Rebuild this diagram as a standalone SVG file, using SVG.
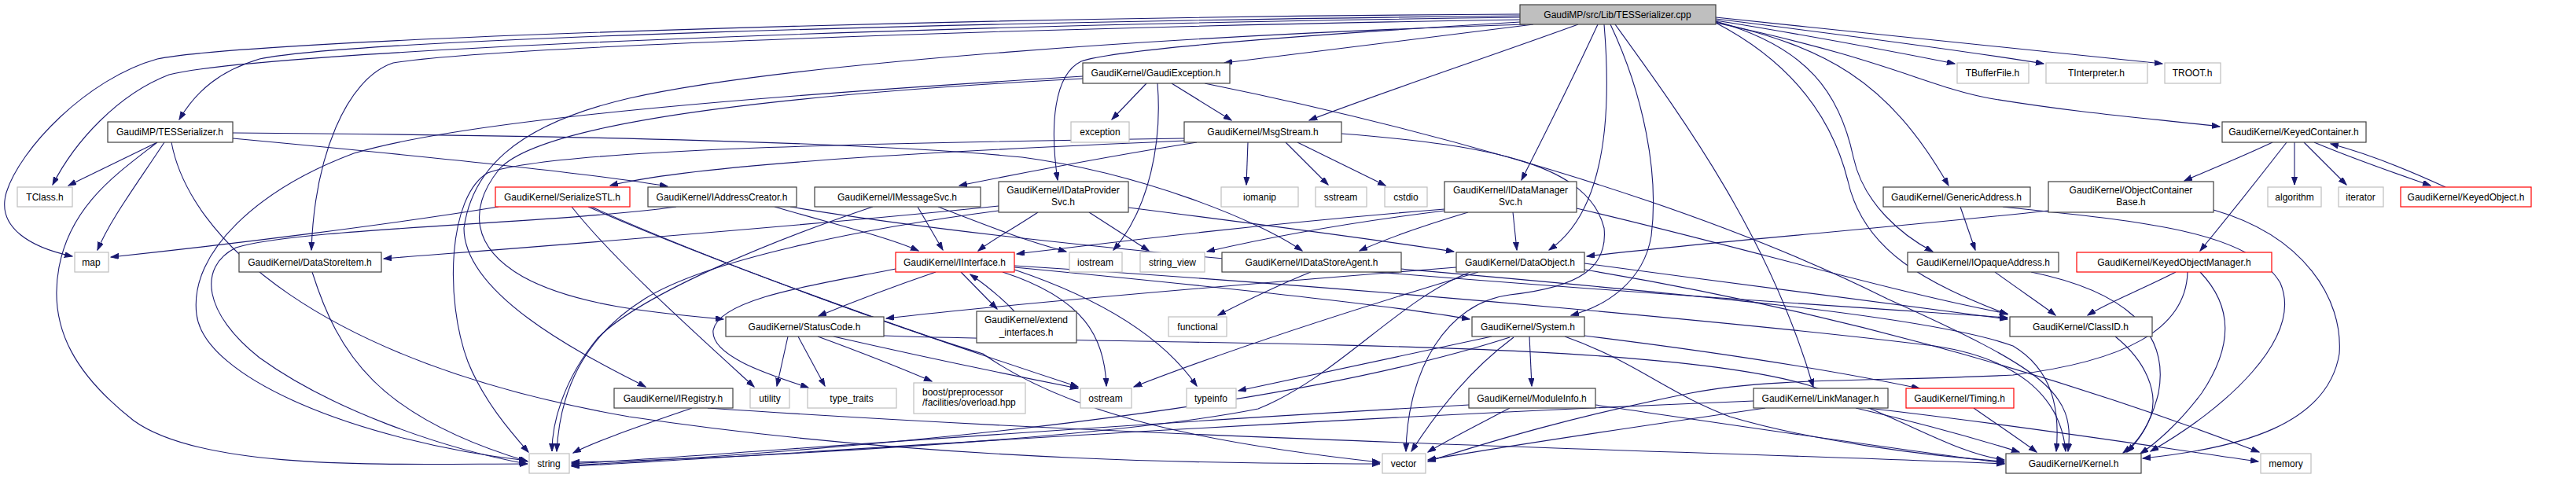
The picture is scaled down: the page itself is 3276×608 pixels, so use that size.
<svg xmlns="http://www.w3.org/2000/svg" width="3276" height="608" viewBox="0 0 3276 608">
<style>
rect{fill:#fff;stroke:#404040;stroke-width:1.2}
.g rect{stroke:#bfbfbf}
.r rect{stroke:#ff0000}
.root rect{fill:#bfbfbf;stroke:#404040}
text{font-family:"Liberation Sans",Arial,Helvetica,sans-serif;font-size:12px;fill:#000;text-anchor:middle}
text.l{text-anchor:start}
#edges path{fill:none;stroke:#191970;stroke-width:1.1;marker-end:url(#a)}
</style>
<defs>
<marker id="a" markerUnits="userSpaceOnUse" markerWidth="11" markerHeight="8" refX="10" refY="3.5" orient="auto">
<path d="M0,0 L10,3.5 L0,7 z" fill="#191970" stroke="#191970"/>
</marker>
</defs>
<rect x="0" y="0" width="3276" height="608" style="fill:#fff;stroke:none"/>
<g id="edges">
<path d="M1933,20 C1200,28 450,50 330,75 C280,90 250,115 228,152"/>
<path d="M1933,22 C1150,32 330,65 215,95 C150,120 95,180 67,235"/>
<path d="M1933,18 C1200,22 320,50 200,75 C110,100 25,190 8,245 C-5,290 40,315 92,326"/>
<path d="M1933,25 C1300,35 620,60 500,80 C440,100 400,200 396,318"/>
<path d="M1940,31 C1500,45 1000,80 800,125 C650,160 600,220 590,290 C590,380 760,460 821,492"/>
<path d="M1950,31 C1800,50 1650,68 1557,80"/>
<path d="M2007,31 C1900,70 1750,120 1665,153"/>
<path d="M1933,28 C1700,42 1420,62 1375,78 C1340,95 1335,160 1345,229"/>
<path d="M2032,31 C2000,100 1965,170 1935,229"/>
<path d="M2040,31 C2050,150 2040,270 1970,318"/>
<path d="M2048,31 C2090,120 2110,220 2100,300 C2090,360 2040,390 1998,401"/>
<path d="M2054,31 C2140,150 2250,300 2306,492"/>
<path d="M2182,28 C2320,60 2400,100 2478,236"/>
<path d="M2182,27 C2300,60 2340,120 2357,200 C2370,260 2420,300 2458,320"/>
<path d="M2182,29 C2280,80 2330,150 2350,230 C2370,320 2450,360 2553,400"/>
<path d="M2182,29 C2400,75 2450,110 2530,125 C2650,145 2750,152 2823,161"/>
<path d="M2182,26 C2300,45 2420,68 2486,81"/>
<path d="M2182,24 C2350,45 2500,65 2599,81"/>
<path d="M2182,22 C2400,45 2650,70 2750,81"/>
<path d="M1458,106 L1414,152"/>
<path d="M1490,106 L1566,153"/>
<path d="M1472,106 C1478,180 1462,265 1416,318"/>
<path d="M1532,106 C1700,140 2100,230 2400,380 C2600,470 2640,500 2630,574"/>
<path d="M1377,97 C1000,120 600,150 450,195 C330,240 240,320 250,400 C260,480 450,560 670,586"/>
<path d="M1377,100 C1000,120 690,155 635,215 C595,265 600,315 665,352 C730,388 830,398 920,406"/>
<path d="M1587,181 L1585,235"/>
<path d="M1635,181 L1689,235"/>
<path d="M1650,181 L1762,236"/>
<path d="M1522,181 C1400,200 1300,220 1220,236"/>
<path d="M1506,179 C1300,188 900,205 776,236"/>
<path d="M1506,176 C1100,182 700,190 620,220 C570,250 565,380 595,460 C615,510 650,550 672,575"/>
<path d="M1706,170 C1900,185 2020,210 2040,290 C2045,340 2010,365 1920,375 C1840,385 1790,470 1788,574"/>
<path d="M1167,263 L1199,318"/>
<path d="M1110,263 C1000,300 820,370 760,430 C715,485 702,540 702,574"/>
<path d="M1193,263 C1250,285 1300,305 1356,320"/>
<path d="M634,263 C500,285 300,310 141,327"/>
<path d="M727,263 C780,330 880,420 959,492"/>
<path d="M748,263 C900,330 1150,420 1371,492"/>
<path d="M752,263 C900,330 1150,420 1250,450 C1350,520 1500,560 1755,588"/>
<path d="M860,263 C700,285 380,290 300,315 C250,340 260,400 330,455 C420,520 560,570 670,590"/>
<path d="M985,263 C1060,285 1130,302 1168,319"/>
<path d="M1005,263 C1400,330 2200,380 2553,404"/>
<path d="M1270,262 C1000,290 600,320 488,329"/>
<path d="M1320,270 C1290,290 1262,305 1244,319"/>
<path d="M1385,270 L1461,319"/>
<path d="M1435,264 C1600,285 1750,305 1849,320"/>
<path d="M1270,268 C1100,290 900,330 820,380 C740,430 712,500 708,574"/>
<path d="M1867,270 C1800,290 1760,305 1729,319"/>
<path d="M1924,270 L1929,318"/>
<path d="M1837,268 C1700,285 1600,305 1535,320"/>
<path d="M1837,266 C1600,285 1400,310 1293,323"/>
<path d="M2005,265 C2200,310 2400,370 2553,399"/>
<path d="M1190,346 C1120,370 1070,390 1041,402"/>
<path d="M1222,346 L1268,393"/>
<path d="M1290,396 C1270,375 1250,360 1234,349"/>
<path d="M1275,346 C1380,380 1405,430 1407,491"/>
<path d="M1290,343 C1400,380 1480,430 1522,491"/>
<path d="M1139,342 C1050,360 915,378 907,420 C903,455 990,480 1028,493"/>
<path d="M1290,340 C1500,360 1750,385 1869,406"/>
<path d="M1290,338 C1800,370 2300,420 2460,440 C2560,455 2620,500 2627,574"/>
<path d="M1002,428 L988,491"/>
<path d="M1015,428 L1049,491"/>
<path d="M1040,428 C1100,450 1150,470 1185,485"/>
<path d="M1060,428 C1200,460 1300,480 1371,494"/>
<path d="M1124,427 C1500,440 2100,430 2300,490 C2420,530 2480,575 2549,585"/>
<path d="M1852,340 C1600,360 1300,385 1127,405"/>
<path d="M2015,335 C2200,360 2400,385 2553,406"/>
<path d="M1880,346 C1700,400 1550,450 1442,492"/>
<path d="M1870,346 C1780,380 1700,480 1600,520 C1400,560 900,585 727,588"/>
<path d="M2015,343 C2300,390 2600,470 2873,575"/>
<path d="M1667,346 C1620,365 1580,385 1549,401"/>
<path d="M1782,342 C2100,370 2450,400 2560,440 C2610,470 2620,520 2615,574"/>
<path d="M1945,428 L1948,491"/>
<path d="M1897,428 C1750,460 1650,480 1575,497"/>
<path d="M1920,429 C1700,500 1300,560 727,592"/>
<path d="M1925,429 C1870,470 1830,520 1795,574"/>
<path d="M2015,427 C2200,450 2350,475 2441,494"/>
<path d="M1990,428 C2080,460 2120,500 2200,530 C2300,560 2450,580 2549,587"/>
<path d="M1868,515 C1400,540 900,580 727,590"/>
<path d="M1920,519 C1880,540 1840,560 1816,575"/>
<path d="M2029,515 C2200,540 2400,570 2549,589"/>
<path d="M2230,510 C1500,540 900,585 727,593"/>
<path d="M2245,519 C2100,540 1900,570 1816,585"/>
<path d="M2360,519 C2450,540 2520,560 2568,575"/>
<path d="M2375,519 C2600,545 2750,570 2872,587"/>
<path d="M2510,519 C2540,540 2570,560 2590,575"/>
<path d="M2537,346 C2570,370 2600,390 2614,401"/>
<path d="M2583,346 C2700,370 2760,420 2745,500 C2735,540 2720,560 2705,575"/>
<path d="M2767,346 C2720,370 2680,385 2655,401"/>
<path d="M2782,346 C2780,420 2700,460 2560,477 C2400,485 2250,480 2150,500 C2000,530 1900,560 1816,587"/>
<path d="M2798,346 C2840,390 2840,440 2800,500 C2770,540 2740,565 2722,577"/>
<path d="M2890,181 C2850,200 2805,218 2778,230"/>
<path d="M2918,181 L2918,235"/>
<path d="M2930,181 L2984,235"/>
<path d="M2943,181 C3000,205 3060,225 3091,236"/>
<path d="M3110,238 C3060,215 3010,195 2964,183"/>
<path d="M2908,181 C2870,230 2830,280 2798,319"/>
<path d="M2493,263 L2512,318"/>
<path d="M2547,263 C2700,280 2860,290 2900,360 C2930,430 2830,520 2735,574"/>
<path d="M2605,268 C2400,290 2150,310 2018,326"/>
<path d="M2815,267 C2930,300 2980,380 2975,450 C2960,540 2850,570 2725,583"/>
<path d="M2690,428 C2730,460 2745,500 2735,530 C2725,555 2712,567 2700,576"/>
<path d="M880,519 C820,540 760,560 729,576"/>
<path d="M900,519 C1500,560 2200,575 2549,590"/>
<path d="M397,346 C430,450 480,530 671,587"/>
<path d="M200,181 L87,236"/>
<path d="M209,181 C170,240 140,280 124,318"/>
<path d="M200,181 C150,220 90,260 75,340 C60,420 100,480 170,535 C260,600 500,590 671,590"/>
<path d="M218,181 C240,300 400,460 800,530 C1200,590 1600,590 1755,590"/>
<path d="M296,176 C500,195 750,220 849,237"/>
<path d="M296,169 C700,172 1100,180 1300,200 C1450,220 1600,280 1656,319"/>
</g>
<g id="n_root" class="root"><rect x="1933" y="6" width="249" height="25"/><text x="2057" y="23">GaudiMP/src/Lib/TESSerializer.cpp</text></g>
<g id="n_gex"><rect x="1377" y="80" width="187" height="26"/><text x="1470" y="97">GaudiKernel/GaudiException.h</text></g>
<g id="n_tbuf" class="g"><rect x="2489" y="80" width="91" height="26"/><text x="2534" y="97">TBufferFile.h</text></g>
<g id="n_tint" class="g"><rect x="2602" y="80" width="129" height="26"/><text x="2666" y="97">TInterpreter.h</text></g>
<g id="n_troot" class="g"><rect x="2753" y="80" width="71" height="26"/><text x="2788" y="97">TROOT.h</text></g>
<g id="n_tesh"><rect x="137" y="155" width="159" height="26"/><text x="216" y="172">GaudiMP/TESSerializer.h</text></g>
<g id="n_msgs"><rect x="1506" y="155" width="200" height="26"/><text x="1606" y="172">GaudiKernel/MsgStream.h</text></g>
<g id="n_exception" class="g"><rect x="1362" y="155" width="74" height="26"/><text x="1399" y="172">exception</text></g>
<g id="n_kc"><rect x="2826" y="155" width="183" height="26"/><text x="2917" y="172">GaudiKernel/KeyedContainer.h</text></g>
<g id="n_tclass" class="g"><rect x="22" y="238" width="70" height="25"/><text x="57" y="255">TClass.h</text></g>
<g id="n_sstl" class="r"><rect x="630" y="238" width="171" height="25"/><text x="715" y="255">GaudiKernel/SerializeSTL.h</text></g>
<g id="n_iac"><rect x="824" y="238" width="189" height="25"/><text x="918" y="255">GaudiKernel/IAddressCreator.h</text></g>
<g id="n_ims"><rect x="1036" y="238" width="211" height="25"/><text x="1141" y="255">GaudiKernel/IMessageSvc.h</text></g>
<g id="n_idps"><rect x="1270" y="231" width="165" height="39"/><text x="1352" y="246">GaudiKernel/IDataProvider</text><text x="1352" y="261">Svc.h</text></g>
<g id="n_iomanip" class="g"><rect x="1553" y="238" width="98" height="25"/><text x="1602" y="255">iomanip</text></g>
<g id="n_sstream" class="g"><rect x="1673" y="238" width="65" height="25"/><text x="1705" y="255">sstream</text></g>
<g id="n_cstdio" class="g"><rect x="1761" y="238" width="54" height="25"/><text x="1788" y="255">cstdio</text></g>
<g id="n_idms"><rect x="1837" y="231" width="168" height="39"/><text x="1921" y="246">GaudiKernel/IDataManager</text><text x="1921" y="261">Svc.h</text></g>
<g id="n_ga"><rect x="2395" y="238" width="187" height="25"/><text x="2488" y="255">GaudiKernel/GenericAddress.h</text></g>
<g id="n_ocb"><rect x="2605" y="231" width="210" height="39"/><text x="2710" y="246">GaudiKernel/ObjectContainer</text><text x="2710" y="261">Base.h</text></g>
<g id="n_algorithm" class="g"><rect x="2884" y="238" width="68" height="25"/><text x="2918" y="255">algorithm</text></g>
<g id="n_iterator" class="g"><rect x="2974" y="238" width="57" height="25"/><text x="3002" y="255">iterator</text></g>
<g id="n_ko" class="r"><rect x="3053" y="238" width="166" height="25"/><text x="3136" y="255">GaudiKernel/KeyedObject.h</text></g>
<g id="n_map" class="g"><rect x="95" y="321" width="43" height="25"/><text x="116" y="338">map</text></g>
<g id="n_dsi"><rect x="304" y="321" width="181" height="25"/><text x="394" y="338">GaudiKernel/DataStoreItem.h</text></g>
<g id="n_ii" class="r"><rect x="1139" y="321" width="151" height="25"/><text x="1214" y="338">GaudiKernel/IInterface.h</text></g>
<g id="n_iostream" class="g"><rect x="1360" y="321" width="67" height="25"/><text x="1393" y="338">iostream</text></g>
<g id="n_sv" class="g"><rect x="1450" y="321" width="82" height="25"/><text x="1491" y="338">string_view</text></g>
<g id="n_idsa"><rect x="1554" y="321" width="228" height="25"/><text x="1668" y="338">GaudiKernel/IDataStoreAgent.h</text></g>
<g id="n_do"><rect x="1852" y="321" width="163" height="25"/><text x="1933" y="338">GaudiKernel/DataObject.h</text></g>
<g id="n_ioa"><rect x="2426" y="321" width="192" height="25"/><text x="2522" y="338">GaudiKernel/IOpaqueAddress.h</text></g>
<g id="n_kom" class="r"><rect x="2641" y="321" width="248" height="25"/><text x="2765" y="338">GaudiKernel/KeyedObjectManager.h</text></g>
<g id="n_sc"><rect x="923" y="403" width="201" height="25"/><text x="1023" y="420">GaudiKernel/StatusCode.h</text></g>
<g id="n_ext"><rect x="1242" y="396" width="127" height="40"/><text x="1305" y="411">GaudiKernel/extend</text><text x="1305" y="427">_interfaces.h</text></g>
<g id="n_functional" class="g"><rect x="1486" y="403" width="74" height="25"/><text x="1523" y="420">functional</text></g>
<g id="n_sys"><rect x="1872" y="403" width="143" height="25"/><text x="1943" y="420">GaudiKernel/System.h</text></g>
<g id="n_cid"><rect x="2556" y="403" width="181" height="25"/><text x="2646" y="420">GaudiKernel/ClassID.h</text></g>
<g id="n_ireg"><rect x="781" y="494" width="151" height="25"/><text x="856" y="511">GaudiKernel/IRegistry.h</text></g>
<g id="n_utility" class="g"><rect x="954" y="494" width="50" height="25"/><text x="979" y="511">utility</text></g>
<g id="n_tt" class="g"><rect x="1027" y="494" width="113" height="25"/><text x="1083" y="511">type_traits</text></g>
<g id="n_boost" class="g"><rect x="1162" y="487" width="142" height="39"/><text class="l" x="1173" y="503">boost/preprocessor</text><text class="l" x="1173" y="516">/facilities/overload.hpp</text></g>
<g id="n_ostream" class="g"><rect x="1374" y="494" width="65" height="25"/><text x="1406" y="511">ostream</text></g>
<g id="n_typeinfo" class="g"><rect x="1509" y="494" width="63" height="25"/><text x="1540" y="511">typeinfo</text></g>
<g id="n_mi"><rect x="1868" y="494" width="161" height="25"/><text x="1948" y="511">GaudiKernel/ModuleInfo.h</text></g>
<g id="n_lm"><rect x="2230" y="494" width="171" height="25"/><text x="2315" y="511">GaudiKernel/LinkManager.h</text></g>
<g id="n_timing" class="r"><rect x="2424" y="494" width="137" height="25"/><text x="2492" y="511">GaudiKernel/Timing.h</text></g>
<g id="n_string" class="g"><rect x="673" y="577" width="51" height="25"/><text x="698" y="594">string</text></g>
<g id="n_vector" class="g"><rect x="1758" y="577" width="55" height="25"/><text x="1785" y="594">vector</text></g>
<g id="n_kernel"><rect x="2551" y="577" width="172" height="25"/><text x="2637" y="594">GaudiKernel/Kernel.h</text></g>
<g id="n_memory" class="g"><rect x="2875" y="577" width="64" height="25"/><text x="2907" y="594">memory</text></g>
</svg>
